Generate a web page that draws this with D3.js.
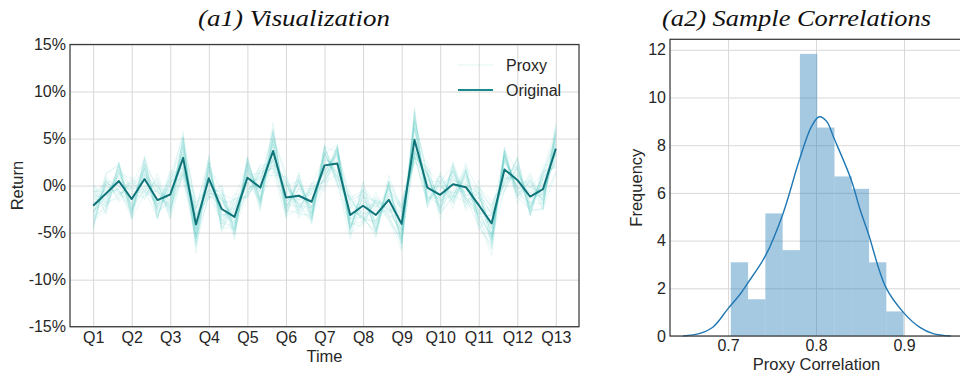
<!DOCTYPE html>
<html>
<head>
<meta charset="utf-8">
<script src="https://cdn.jsdelivr.net/npm/d3@7"></script>
<style>
  body { margin: 0; background: #fff; }
  text { font-family: "Liberation Sans", Arial, sans-serif; }
</style>
</head>
<body>
<svg id="chart" width="960" height="379"></svg>
<script>
// ---- data ----
const quarterLabels = ["Q1","Q2","Q3","Q4","Q5","Q6","Q7","Q8","Q9","Q10","Q11","Q12","Q13"];
const returnTicks = [-15, -10, -5, 0, 5, 10, 15];

// monthly return of the original series, in percent (3 points per quarter)
const original = [
  -2.14, -0.85, 0.49, -1.43, 0.70, -1.54, -0.95, 2.95, -4.14, 0.78,
  -2.49, -3.33, 0.84, -0.21, 3.68, -1.26, -1.08, -1.72, 2.15, 2.36,
  -3.12, -2.14, -3.12, -1.51, -4.07, 4.88, -0.21, -0.98, 0.14, -0.17,
  -2.07, -4.03, 1.72, 0.60, -1.16, -0.38, 3.93
];

// proxy series, stored as offsets from the original in tenths of a percent
const proxyOffsets = [
  [3,-4,6,-2,5,-7,2,8,-5,3,-6,4,1,-3,7,-4,2,-5,6,-1,3,-8,4,-2,5,-3,6,-4,2,-6,3,-5,7,-2,4,-3,5],
  [-8,5,-3,9,-6,2,-10,4,7,-5,8,-2,-6,10,-4,6,-9,3,-5,8,-3,6,-7,9,-2,-11,4,-8,5,-3,9,-6,2,-7,4,-9,-5],
  [12,-6,15,-10,4,14,-8,-12,18,-5,9,14,-11,6,-15,10,-4,12,-9,15,-6,11,-14,7,16,-9,13,-5,10,-12,8,19,-7,14,-10,6,-13],
  [-14,10,-5,-12,16,-8,11,-4,-16,12,-9,7,15,-13,5,-10,14,-6,-12,9,13,-7,10,-15,-6,12,-10,16,-8,11,-5,-18,12,-9,15,-11,8],
  [20,-15,8,22,-18,12,-25,16,-10,25,-20,14,-8,22,-12,18,-24,10,-15,20,-9,-22,18,-12,25,-18,15,-20,24,-10,16,-14,22,-17,10,-21,27],
  [-22,18,-12,6,-20,24,-15,-9,27,-14,20,-16,11,-25,18,-8,22,-19,14,-22,17,-11,-24,20,-13,30,-17,12,-21,19,-26,10,-15,23,-12,18,-20],
  [6,12,-9,-14,8,-4,17,-11,5,-16,13,-8,-12,4,19,-10,7,14,-17,6,-13,9,15,-5,-18,11,-7,20,-14,3,12,-20,9,-6,17,-8,-4],
  [-5,-10,13,8,-15,10,-6,20,-14,-8,16,-12,9,-18,-7,15,-11,-6,19,-12,8,-15,-6,13,-9,-14,18,-6,-12,15,-9,8,-16,11,-7,14,12],
  [9,-2,-8,12,-3,-9,5,-6,-12,7,3,-10,6,-4,11,-13,-2,8,-6,12,-10,4,9,-7,-14,16,-3,9,-11,5,-8,-13,15,-9,6,-4,-10],
  [-3,7,-12,-5,11,6,-14,10,14,-11,-3,9,-9,13,-8,-5,10,-13,4,-9,11,-14,8,11,20,-6,-12,5,13,-14,7,11,-10,4,-13,10,-6],
  [16,-22,20,-14,25,-18,10,28,-30,15,-24,19,-20,12,-26,22,-16,20,-28,14,-18,26,-12,18,-22,34,-20,24,-14,26,-18,-34,20,-25,18,-22,14],
  [-18,14,-20,24,-12,20,-26,-18,12,-22,26,-15,22,-16,30,-20,18,-24,16,-20,-26,14,-18,26,16,-20,28,-18,20,-25,14,10,-24,16,-20,26,-18],
  [2,5,-3,-6,4,8,-5,-3,6,-2,-7,5,3,-5,-2,7,-4,1,6,-3,-5,3,-6,4,8,-4,2,-7,5,3,-6,4,-3,7,-2,-5,3],
  [-6,-3,8,4,-9,-5,10,6,-8,9,-4,-7,11,-2,-9,5,12,-6,-3,10,-8,-4,12,-9,7,-10,-5,12,6,-8,11,-5,-9,5,10,-6,9],
  [10,14,-6,17,-13,-4,14,-15,9,-19,6,18,-5,-14,12,-17,8,-9,13,-16,7,17,-10,5,-16,13,-11,-3,16,-12,-6,15,-4,-14,9,17,-12],
  [-11,-16,10,-7,18,-14,-5,12,22,-7,-15,-10,17,-9,-6,16,-13,11,-8,17,-12,-9,16,-11,-8,22,10,-14,-7,18,-15,-11,17,-13,11,-7,18],
  [4,-9,-6,14,10,-12,7,-18,-6,13,-11,-14,3,15,-18,4,-7,17,10,-14,5,-12,-9,16,-4,20,-15,8,-9,-4,19,-16,10,-13,-8,5,-14],
  [-9,11,4,-11,-12,9,-18,3,10,-12,18,-5,-14,8,21,-12,15,-8,-10,3,-14,16,12,-18,10,-16,12,-11,18,-16,-10,20,-9,16,-14,12,10],
  [24,-10,-18,20,-22,28,-12,22,-22,-18,24,-20,16,-22,14,26,-20,-14,22,-25,20,-16,24,-20,-28,26,-22,16,-26,18,-14,-26,24,-18,25,-14,-24],
  [-25,20,18,-22,14,-20,24,-28,16,22,-18,25,-22,18,-20,-22,25,-16,20,12,-22,24,-18,20,18,-24,16,-26,14,-20,26,-16,-22,25,-20,18,22],
  [7,-7,11,-9,-10,13,4,-8,-20,8,-13,10,-5,9,-11,13,-6,-13,9,-7,16,-9,5,-12,12,-13,7,14,-10,8,-13,9,-12,6,-11,9,-7],
  [-7,9,-14,13,6,-11,-9,13,-4,-14,10,-6,13,-11,8,-7,-12,14,-7,11,-4,-12,13,-6,-12,18,-9,-11,14,-9,-12,-14,12,-9,13,-12,5],
  [15,3,-9,-16,12,-6,20,-10,-15,17,-8,12,-16,3,-14,11,-9,-18,12,-11,-15,10,-16,14,-7,-12,15,-16,9,-13,-9,14,-18,12,-6,-16,16],
  [-15,-12,16,11,-8,16,-14,-17,11,-12,14,-18,8,-15,22,-11,16,-11,-14,18,-10,-17,14,-10,14,-17,-13,10,-16,14,12,-12,15,-8,-16,13,-15],
  [18,-20,12,-16,22,-10,26,-20,-12,18,-22,10,-18,24,-14,20,-10,-22,18,-16,24,-12,-20,16,-26,30,-14,20,-18,12,-24,-22,18,-12,22,-18,20],
  [-20,16,-22,12,-14,22,-18,24,18,-20,12,-24,20,-12,-22,16,-20,14,-24,18,-16,20,14,-22,-18,-20,22,-14,16,-22,18,24,-16,20,-14,-22,-26],
  [14,10,-16,20,-12,-18,16,14,-24,12,20,-14,-16,18,-10,-16,22,-12,14,-20,-14,18,-22,12,16,-16,-18,22,-20,16,-20,-28,14,-20,20,-16,16],
  [-16,-18,20,-12,16,14,-20,-16,20,-18,-12,20,14,-20,24,-14,-18,20,-16,14,20,-20,16,-16,-22,24,14,-16,22,-18,14,20,-22,14,-18,20,-20],
  [22,-12,-14,16,20,-16,14,-22,-18,20,-16,16,-20,16,-18,12,16,-20,20,-18,16,12,-16,18,-20,-14,20,12,-18,20,-16,-18,20,-16,16,-12,24],
  [-12,22,16,-20,-16,18,-22,18,24,-16,14,-20,18,-14,16,20,-16,-18,12,20,-20,-18,20,-14,22,-24,16,-20,-12,-16,20,16,-14,22,-20,14,-18],
  [10,-14,18,-18,12,-20,20,22,-14,-20,16,18,-14,20,-16,-14,18,-16,-20,16,12,-14,-18,20,12,-18,-16,14,20,-12,-22,12,16,-18,-14,18,14],
  [-24,12,-10,-20,22,10,-16,-14,16,16,-20,-12,22,-18,12,-20,-14,16,-18,-12,18,16,12,-20,-16,20,18,-20,-14,22,16,-24,20,10,-16,-20,20]
];

// histogram of proxy correlations (density per bin)
const corrBinStart = 0.7031;
const corrBinWidth = 0.01964;
const corrFrequency = [3.09, 1.54, 5.14, 3.60, 11.83, 8.74, 6.69, 6.17, 3.09, 1.03];
const corrTicks = [0.7, 0.8, 0.9];
const freqTicks = [0, 2, 4, 6, 8, 10, 12];

// kernel density estimate of the correlations
const kdeX = [0.649, 0.668, 0.683, 0.700, 0.713, 0.722, 0.743, 0.7625, 0.781, 0.795, 0.8036, 0.812, 0.8203, 0.840, 0.8502, 0.8593, 0.8792, 0.8995, 0.918, 0.933, 0.953];
const kdeY = [0.0, 0.11, 0.38, 1.15, 1.72, 2.2, 3.4, 5.14, 7.38, 8.8, 9.19, 9.0, 8.3, 6.54, 5.28, 4.31, 2.05, 0.98, 0.36, 0.1, 0.0];

// ---- drawing ----
const svg = d3.select("#chart");
const gridColor = "#d8d8d8";
const spineColor = "#3a3a3a";
const textColor = "#262626";
const tickFont = '"Liberation Sans", Arial, sans-serif';

// Left panel: returns over time
const L = { left: 70, right: 579, top: 44.5, bottom: 326.7 };
const x1 = d3.scaleLinear().domain([-1.8, 37.8]).range([L.left, L.right]);
const y1 = d3.scaleLinear().domain([-15, 15]).range([L.bottom, L.top]);
const quarterIdx = quarterLabels.map((_, i) => i * 3);

const p1 = svg.append("g");
p1.append("g").attr("transform", `translate(0,${L.bottom})`)
  .call(d3.axisBottom(x1).tickValues(quarterIdx).tickSize(-(L.bottom - L.top)).tickFormat(""))
  .call(g => g.select(".domain").remove())
  .call(g => g.selectAll("line").attr("stroke", gridColor).attr("stroke-width", 1));
p1.append("g").attr("transform", `translate(${L.left},0)`)
  .call(d3.axisLeft(y1).tickValues(returnTicks).tickSize(-(L.right - L.left)).tickFormat(""))
  .call(g => g.select(".domain").remove())
  .call(g => g.selectAll("line").attr("stroke", gridColor).attr("stroke-width", 1));

const line1 = d3.line().x((d, i) => x1(i)).y(d => y1(d));
p1.append("g").selectAll("path.proxy")
  .data(proxyOffsets)
  .join("path")
  .attr("class", "proxy")
  .attr("d", offs => line1(original.map((v, i) => v + offs[i] / 10)))
  .attr("fill", "none")
  .attr("stroke", "#3cc2b6")
  .attr("stroke-opacity", 0.13)
  .attr("stroke-width", 1);

p1.append("path")
  .attr("d", line1(original))
  .attr("fill", "none")
  .attr("stroke", "#0f7479")
  .attr("stroke-width", 2)
  .attr("stroke-linejoin", "round");

p1.append("rect")
  .attr("x", L.left).attr("y", L.top)
  .attr("width", L.right - L.left).attr("height", L.bottom - L.top)
  .attr("fill", "none").attr("stroke", spineColor).attr("stroke-width", 1.25);

p1.append("g").attr("transform", `translate(0,${L.bottom})`)
  .call(d3.axisBottom(x1).tickValues(quarterIdx).tickSize(0).tickPadding(5)
    .tickFormat((d, i) => quarterLabels[i]))
  .call(g => g.select(".domain").remove())
  .call(g => g.selectAll("text").attr("font-size", 16).attr("fill", textColor).style("font-family", tickFont));
p1.append("g").attr("transform", `translate(${L.left},0)`)
  .call(d3.axisLeft(y1).tickValues(returnTicks).tickSize(0).tickPadding(4)
    .tickFormat(d => `${d}%`))
  .call(g => g.select(".domain").remove())
  .call(g => g.selectAll("text").attr("font-size", 16).attr("fill", textColor).style("font-family", tickFont));

p1.append("text").attr("x", (L.left + L.right) / 2).attr("y", 361.5)
  .attr("text-anchor", "middle").attr("font-size", 16.5).attr("fill", textColor).text("Time");
p1.append("text")
  .attr("transform", `translate(23,${(L.top + L.bottom) / 2}) rotate(-90)`)
  .attr("text-anchor", "middle").attr("font-size", 16.5).attr("fill", textColor).text("Return");

// legend
const lg = p1.append("g");
lg.append("line").attr("x1", 458).attr("x2", 493).attr("y1", 65).attr("y2", 65)
  .attr("stroke", "#3cc2b6").attr("stroke-opacity", 0.15).attr("stroke-width", 1);
lg.append("text").attr("x", 506).attr("y", 65).attr("dy", "0.35em")
  .attr("font-size", 16).attr("fill", textColor).text("Proxy");
lg.append("line").attr("x1", 458).attr("x2", 493).attr("y1", 90).attr("y2", 90)
  .attr("stroke", "#1a8a8e").attr("stroke-width", 2);
lg.append("text").attr("x", 506).attr("y", 90).attr("dy", "0.35em")
  .attr("font-size", 16).attr("fill", textColor).text("Original");

// Right panel: distribution of correlations
const R = { left: 670, right: 963, top: 39.3, bottom: 336 };
const x2 = d3.scaleLinear().domain([0.634, 0.967]).range([R.left, R.right]);
const y2 = d3.scaleLinear().domain([0, 12.44]).range([R.bottom, R.top]);

const p2 = svg.append("g");
p2.append("g").attr("transform", `translate(0,${R.bottom})`)
  .call(d3.axisBottom(x2).tickValues(corrTicks).tickSize(-(R.bottom - R.top)).tickFormat(""))
  .call(g => g.select(".domain").remove())
  .call(g => g.selectAll("line").attr("stroke", gridColor).attr("stroke-width", 1));
p2.append("g").attr("transform", `translate(${R.left},0)`)
  .call(d3.axisLeft(y2).tickValues(freqTicks).tickSize(-(R.right - R.left)).tickFormat(""))
  .call(g => g.select(".domain").remove())
  .call(g => g.selectAll("line").attr("stroke", gridColor).attr("stroke-width", 1));

p2.append("g").selectAll("rect")
  .data(corrFrequency)
  .join("rect")
  .attr("x", (d, i) => x2(corrBinStart + i * corrBinWidth))
  .attr("width", (d, i) => x2(corrBinStart + (i + 1) * corrBinWidth) - x2(corrBinStart + i * corrBinWidth))
  .attr("y", d => y2(d))
  .attr("height", d => y2(0) - y2(d))
  .attr("fill", "#1f77b4")
  .attr("fill-opacity", 0.4);

p2.append("path")
  .attr("d", d3.line().x(d => x2(d[0])).y(d => y2(d[1])).curve(d3.curveCatmullRom.alpha(0.5))(kdeX.map((v, i) => [v, kdeY[i]])))
  .attr("fill", "none")
  .attr("stroke", "#1f77b4")
  .attr("stroke-width", 1.4);

p2.append("rect")
  .attr("x", R.left).attr("y", R.top)
  .attr("width", R.right - R.left).attr("height", R.bottom - R.top)
  .attr("fill", "none").attr("stroke", spineColor).attr("stroke-width", 1.25);

p2.append("g").attr("transform", `translate(0,${R.bottom})`)
  .call(d3.axisBottom(x2).tickValues(corrTicks).tickSize(0).tickPadding(4)
    .tickFormat(d3.format(".1f")))
  .call(g => g.select(".domain").remove())
  .call(g => g.selectAll("text").attr("font-size", 16).attr("fill", textColor).style("font-family", tickFont));
p2.append("g").attr("transform", `translate(${R.left},0)`)
  .call(d3.axisLeft(y2).tickValues(freqTicks).tickSize(0).tickPadding(4))
  .call(g => g.select(".domain").remove())
  .call(g => g.selectAll("text").attr("font-size", 16).attr("fill", textColor).style("font-family", tickFont));

p2.append("text").attr("x", (R.left + R.right) / 2).attr("y", 370)
  .attr("text-anchor", "middle").attr("font-size", 16.5).attr("fill", textColor).text("Proxy Correlation");
p2.append("text")
  .attr("transform", `translate(642,${(R.top + R.bottom) / 2}) rotate(-90)`)
  .attr("text-anchor", "middle").attr("font-size", 16.5).attr("fill", textColor).text("Frequency");

// panel titles
const titleFont = '"Liberation Serif", "DejaVu Serif", serif';
svg.append("text").attr("x", 198).attr("y", 25.5)
  .attr("font-size", 24).attr("font-style", "italic").attr("fill", "#111")
  .style("font-family", titleFont)
  .attr("textLength", 192).attr("lengthAdjust", "spacingAndGlyphs")
  .text("(a1) Visualization");
svg.append("text").attr("x", 662).attr("y", 25.5)
  .attr("font-size", 24).attr("font-style", "italic").attr("fill", "#111")
  .style("font-family", titleFont)
  .attr("textLength", 269).attr("lengthAdjust", "spacingAndGlyphs")
  .text("(a2) Sample Correlations");
</script>
</body>
</html>
